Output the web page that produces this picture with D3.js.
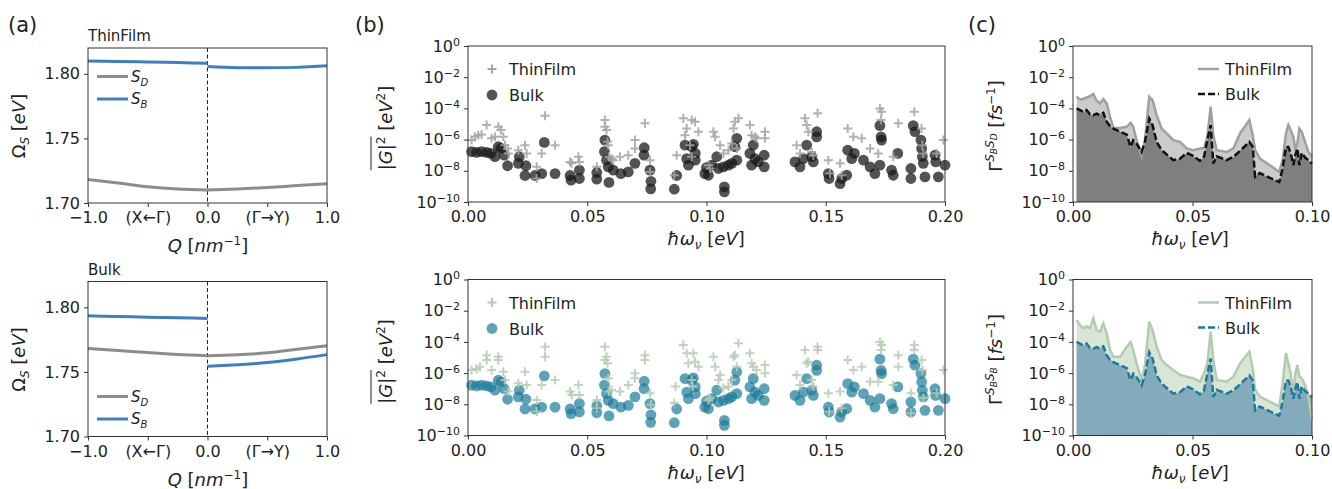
<!DOCTYPE html>
<html>
<head>
<meta charset="utf-8">
<script src="https://cdn.jsdelivr.net/npm/d3@7"></script>
<style>
  body { margin: 0; background: #fff; }
  text { font-family: "DejaVu Sans", sans-serif; }
</style>
</head>
<body>
<script>
// ---------- data: panel (a), exciton bands ----------
var qLeft = [-1.0, -0.75, -0.5, -0.25, 0.0];
var qRight = [0.0, 0.25, 0.5, 0.75, 1.0];
var qTicks = [-1, -0.5, 0, 0.5, 1];
var qTickLabels = ["\u22121.0", "(X\u2190\u0393)", "0.0", "(\u0393\u2192Y)", "1.0"];

var tfSDLeft = [1.7182, 1.7155, 1.7126, 1.7108, 1.7100];
var tfSDRight = [1.7100, 1.7108, 1.7120, 1.7135, 1.7149];
var tfSBLeft = [1.8100, 1.8096, 1.8092, 1.8087, 1.8082];
var tfSBRight = [1.8056, 1.8048, 1.8047, 1.8050, 1.8062];

var bkSDLeft = [1.7682, 1.7665, 1.7650, 1.7634, 1.7626];
var bkSDRight = [1.7626, 1.7632, 1.7648, 1.7675, 1.7702];
var bkSBLeft = [1.7934, 1.7929, 1.7924, 1.7919, 1.7914];
var bkSBRight = [1.7544, 1.7556, 1.7572, 1.7600, 1.7634];

// ---------- data: panel (b), |G|^2 per phonon mode ----------
var bulkFreq = [0.0015,0.0036,0.0057,0.0078,0.0096,0.0113,0.0127,0.0138,0.0152,0.0166,
  0.0211,0.0215,0.0243,0.0239,0.0281,0.0309,0.0320,0.0365,0.0428,0.0432,
  0.0467,0.0467,0.0540,0.0540,0.0574,0.0572,0.0581,0.0588,0.0591,0.0609,
  0.0641,0.0672,0.0700,0.0739,0.0738,0.0763,0.0767,0.0766,0.0865,0.0875,
  0.0910,0.0917,0.0924,0.0938,0.0945,0.0953,0.0953,0.0993,0.1000,
  0.1008,0.1022,0.1043,0.1050,0.1071,0.1092,0.1106,0.1127,0.1119,0.1127,
  0.1075,0.1075,0.1182,0.1189,0.1203,0.1196,0.1217,0.1242,0.1242,0.1371,
  0.1392,0.1406,0.1420,0.1441,0.1448,0.1462,0.1462,0.1511,0.1514,0.1560,
  0.1567,0.1588,0.1592,0.1609,0.1620,0.1658,0.1686,0.1706,0.1727,0.1727,
  0.1732,0.1734,0.1776,0.1783,0.1802,0.1857,0.1857,0.1867,0.1874,0.1899,
  0.1902,0.1905,0.1909,0.1916,0.1958,0.1961,0.1972,0.2000];
var bulkG = [1.7e-7,1.5e-7,1.7e-7,1.5e-7,1.3e-7,8e-8,3.5e-7,2.7e-7,1e-7,2.1e-8,
  3e-8,8e-8,2.1e-8,5e-9,5e-9,6.6e-9,6.6e-7,6.6e-9,5e-9,2.5e-9,
  1.1e-8,3.2e-9,2.9e-9,7.8e-9,9.3e-7,1.7e-7,4.8e-8,1.8e-8,1.8e-9,1.1e-8,
  6.6e-9,8.5e-9,3e-8,3e-7,1e-7,1.1e-8,2.1e-9,7e-10,6.6e-10,5e-9,
  4.4e-7,6e-8,2.3e-8,3.5e-7,5e-7,1.3e-7,4.8e-8,6.6e-9,1.6e-8,
  5.2e-9,2.3e-8,8e-8,1.4e-8,1.8e-8,2.3e-8,3e-8,4.8e-8,3.5e-7,1.2e-6,
  9.3e-10,4.5e-10,1.3e-7,2.3e-8,6e-8,4.4e-7,3.7e-8,1e-7,1.8e-8,3.7e-8,
  1.8e-8,6e-8,4.4e-7,8e-8,3.7e-8,3.2e-6,1.5e-6,6.6e-9,3.2e-9,1.5e-9,
  3.2e-9,5.2e-9,2.1e-7,6e-8,1.3e-7,4.8e-8,1.8e-8,6.6e-9,2.3e-8,7.8e-6,
  1.5e-6,9.3e-7,1.1e-8,5.2e-9,1.3e-7,1.4e-8,3.2e-9,7.8e-6,3.2e-6,9.3e-7,
  2.7e-7,8e-8,3e-8,4.1e-9,1e-7,3.7e-8,4.1e-9,2.3e-8];

var tfTopFreq = [0.0015,0.0029,0.0043,0.0057,0.0078,0.0099,0.0113,0.0127,0.0138,0.0148,
  0.0155,0.0166,0.0169,0.0211,0.0239,0.0246,0.0288,0.0288,0.0309,0.0323,
  0.0365,0.0428,0.0435,0.0463,0.0467,0.0540,0.0574,0.0574,0.0581,0.0585,
  0.0588,0.0591,0.0602,0.0609,0.0637,0.0672,0.0700,0.0700,0.0742,0.0763,
  0.0763,0.0865,0.0875,0.0903,0.0910,0.0917,0.0938,0.0952,0.0966,0.0931,
  0.0938,0.1008,
  0.1015,0.1029,0.1036,0.1057,0.1071,0.1092,0.1106,0.1113,0.1119,0.1134,
  0.1127,0.1182,0.1189,0.1203,0.1210,0.1245,0.1245,0.1378,0.1392,0.1413,
  0.1420,0.1427,0.1441,0.1448,0.1466,0.1511,0.1518,0.1560,0.1567,0.1592,
  0.1616,0.1651,0.1686,0.1720,0.1727,0.1734,0.1732,0.1804,0.1783,0.1871,
  0.1902,0.1905,0.1909,0.1965,0.1993];
var tfTopG = [9.3e-7,1.5e-6,1.9e-6,2.1e-6,8.5e-6,1.2e-6,1.5e-6,6.6e-6,4.1e-6,1.5e-6,
  4.4e-7,2.7e-7,1.3e-7,2.1e-7,4.4e-7,1.3e-7,1.8e-8,3.2e-9,1.3e-7,3.4e-5,
  4.4e-7,3.7e-8,3e-8,8e-8,3.7e-8,1.8e-8,1.8e-5,6.6e-6,4.1e-6,7.2e-7,
  4.4e-7,8e-8,6e-8,4.8e-8,8e-8,1e-7,9.3e-7,2.7e-7,1.1e-5,4.8e-8,
  8.5e-9,5.2e-9,1e-7,2.3e-5,1.9e-6,5.2e-6,1.8e-5,1.4e-5,3.2e-6,4.4e-7,
  8e-8,2.3e-8,
  1.4e-8,3.2e-6,1.5e-6,4.4e-7,1.3e-7,2.1e-7,5.6e-7,5.2e-6,1.4e-5,2.3e-5,
  2.7e-7,8.5e-6,1.9e-6,1.5e-6,1.2e-6,3.2e-6,1.2e-6,4.4e-7,1.3e-7,2.3e-5,
  8.5e-6,3.2e-6,1.6e-7,1e-7,4.8e-5,4.8e-8,6.6e-9,3e-8,5.2e-9,5.2e-6,
  1.5e-6,1.2e-6,2.7e-7,1.3e-7,1e-4,6.1e-5,1.8e-5,1.1e-5,8e-8,6.1e-5,
  5.2e-6,4.4e-7,1.3e-7,1.3e-7,9.3e-7];

var tfBotFreq = [0.0015,0.0036,0.0050,0.0078,0.0078,0.0099,0.0127,0.0127,0.0148,0.0155,
  0.0169,0.0211,0.0239,0.0246,0.0288,0.0288,0.0309,0.0323,0.0323,0.0365,
  0.0428,0.0435,0.0463,0.0467,0.0540,0.0540,0.0574,0.0574,0.0581,0.0585,
  0.0588,0.0591,0.0602,0.0637,0.0672,0.0700,0.0700,0.0742,0.0742,0.0763,
  0.0767,0.0865,0.0870,0.0903,0.0917,0.0924,0.0945,0.0952,0.0966,0.0938,
  0.0942,0.1008,
  0.1015,0.1029,0.1036,0.1057,0.1050,0.1071,0.1092,0.1106,0.1113,0.1119,
  0.1127,0.1134,0.1182,0.1189,0.1196,0.1210,0.1245,0.1245,0.1378,0.1392,
  0.1413,0.1420,0.1427,0.1441,0.1448,0.1466,0.1466,0.1511,0.1514,0.1560,
  0.1567,0.1592,0.1616,0.1651,0.1686,0.1720,0.1727,0.1734,0.1732,0.1804,
  0.1804,0.1783,0.1871,0.1871,0.1902,0.1905,0.1909,0.1857,0.1857,0.1965,
  0.1993];
var tfBotG = [1.6e-6,1.8e-6,2.6e-6,1.4e-5,6.9e-6,1.6e-6,1.1e-5,6.9e-6,1.2e-6,3.6e-7,
  6.6e-8,2.2e-7,1.2e-6,1.7e-7,1.9e-8,3.4e-9,1.7e-7,4.9e-5,1.1e-5,3.6e-7,
  6.6e-8,4e-8,1.7e-7,4e-8,1.9e-8,5.6e-9,4.9e-5,6.9e-6,1.1e-5,4.3e-6,
  4.7e-7,6.6e-8,8.3e-8,6.6e-8,1.7e-7,9.8e-7,4.7e-7,1.4e-5,6.9e-6,5.1e-8,
  9.2e-9,1.2e-8,1.4e-7,6.3e-5,1.9e-5,4.3e-6,1.9e-5,5.4e-6,2.6e-6,3.6e-7,
  1.4e-7,1.9e-8,
  2.5e-8,1.1e-5,2.6e-6,7.6e-7,3.6e-7,1.1e-7,1.4e-7,3.6e-7,1.1e-5,1.4e-5,
  2.6e-6,8.1e-5,1.9e-5,4.3e-6,2.6e-6,1.6e-6,3.3e-6,9.8e-7,7.6e-7,1.7e-7,
  3e-5,4.3e-6,5.4e-6,3.6e-7,1.4e-7,4.9e-5,3e-5,5.1e-8,3.4e-9,6.6e-8,
  5.6e-9,6.9e-6,1.6e-6,2.6e-6,2.8e-7,2.8e-7,1e-4,6.3e-5,3e-5,1.4e-5,
  2.6e-6,1.7e-7,6.3e-5,3e-5,6.9e-6,1.6e-6,2.5e-8,5.1e-8,2.7e-9,5.1e-8,
  1.6e-6];

// ---------- data: panel (c), scattering rates ----------
var rateFreq = [0.0015,0.0029,0.0043,0.0057,0.0071,0.0085,0.0099,0.0113,0.0127,0.0141,
  0.0155,0.0169,0.0197,0.0225,0.0241,0.0252,0.0266,0.0287,0.0301,0.0319,
  0.0333,0.0350,0.0371,0.0392,0.0420,0.0448,0.0476,0.0503,0.0531,0.0548,
  0.0562,0.0576,0.0587,0.0601,0.0643,0.0671,0.0699,0.0738,0.0752,0.0762,
  0.0782,0.0824,0.0863,0.0877,0.0891,0.0901,0.0911,0.0922,0.0930,0.0939,
  0.0947,0.0957,0.0971,0.0985,0.1000];
var rateTfBD = [5.6e-4,3.7e-4,4e-4,5e-4,6.2e-4,8.3e-4,3.1e-4,2.1e-4,4e-4,2.1e-4,
  2.9e-5,5.6e-6,5.6e-6,6.6e-6,1.2e-5,6.6e-6,9.1e-7,8.5e-8,9.1e-7,5.6e-4,
  3.4e-4,3.7e-5,5.1e-6,2.5e-6,9.1e-7,7.1e-7,2.7e-7,2.1e-7,2.7e-7,2.9e-7,
  1.5e-6,1.3e-4,1.9e-6,2.1e-7,1.6e-7,2.7e-7,2.5e-6,1.8e-5,1.9e-6,2.1e-7,
  6e-8,2.3e-8,8.5e-9,4.8e-8,2.5e-6,8.5e-6,4e-6,1.5e-6,2.7e-7,5.6e-7,
  5.1e-6,3.2e-6,7.1e-7,1.6e-7,7.8e-8];
var rateTfBB = [2.5e-3,1.2e-3,7.4e-4,1e-3,7.4e-4,3.2e-3,5.7e-4,4.5e-4,1.5e-3,3.5e-4,
  3e-5,1.1e-5,1.1e-5,4.9e-5,1e-4,3e-5,4.2e-6,3.6e-7,3.3e-6,2e-3,
  5.7e-4,4.9e-5,6.9e-6,3.3e-6,1.6e-6,7.6e-7,5.9e-7,4.7e-7,2.8e-7,9.8e-7,
  4.2e-6,4.5e-4,6.9e-6,3.6e-7,2.8e-7,5.9e-7,4.2e-6,2.4e-5,2e-6,8.3e-8,
  3.1e-8,1.5e-8,7.2e-9,2.2e-7,1.9e-5,4.2e-6,9.8e-7,3.1e-8,9.8e-7,3.3e-6,
  5.9e-7,4.7e-7,1.7e-7,3.1e-8,1e-9];
var rateBulk = [1e-4,7.8e-5,6e-5,7.8e-5,4.1e-5,3.7e-5,4.7e-5,3.7e-5,5.2e-5,1.4e-5,
  7.2e-6,5.1e-6,3.2e-6,2.1e-6,3.4e-7,9.1e-7,5.6e-7,1.6e-7,7.1e-7,2.2e-5,
  8.5e-6,7.1e-7,2.1e-7,1.1e-7,4.8e-8,6e-8,1.4e-7,9.1e-8,4.3e-8,7.8e-8,
  9.1e-7,8.5e-6,2.9e-8,8.5e-8,4.8e-8,7.8e-8,1.9e-7,7.1e-7,3.4e-7,4.1e-9,
  7.2e-9,3.5e-9,1.9e-9,1.4e-8,3.4e-7,3.4e-7,1.3e-7,2.3e-8,1e-7,2.7e-7,
  2.3e-8,1.4e-7,7.1e-8,4.8e-8,2.9e-8];

var logTicks = [1e0, 1e-2, 1e-4, 1e-6, 1e-8, 1e-10];

// ---------- drawing ----------
var svg = d3.select("body").append("svg").attr("width", 1332).attr("height", 489);
var serif = "'DejaVu Serif', serif";

function frame(g, x, y) {
  var xr = x.range(), yr = y.range();
  g.append("rect").attr("x", xr[0]).attr("y", yr[1])
    .attr("width", xr[1] - xr[0]).attr("height", yr[0] - yr[1])
    .attr("fill", "none").attr("stroke", "#333").attr("stroke-width", 1);
}

function styleAxis(sel) {
  sel.select(".domain").remove();
  sel.selectAll(".tick line").attr("stroke", "#333");
  sel.selectAll(".tick text").attr("font-size", 16).attr("fill", "#222")
    .attr("font-family", "'DejaVu Sans', sans-serif");
}

function logLabels(sel) {
  sel.selectAll(".tick text").each(function(d) {
    var t = d3.select(this), e = Math.round(Math.log10(d));
    t.text(null);
    t.append("tspan").text("10");
    t.append("tspan").attr("dy", "-0.55em").attr("font-size", 11)
      .text(e === 0 ? "0" : "\u2212" + (-e));
  });
}

function axes(g, x, y, xa, ya) {
  var bottom = y.range()[0], left = x.range()[0];
  g.append("g").attr("transform", "translate(0," + bottom + ")").call(xa).call(styleAxis);
  var yg = g.append("g").attr("transform", "translate(" + left + ",0)").call(ya).call(styleAxis);
  frame(g, x, y);
  return yg;
}

// rotated axis label built from [text, style] parts
function vlabel(cx, cy, parts, size) {
  var t = svg.append("text").attr("transform", "translate(" + cx + "," + cy + ") rotate(-90)")
    .attr("text-anchor", "middle").attr("font-size", size || 18).attr("font-family", serif).attr("fill", "#222");
  addParts(t, parts);
  return t;
}
function hlabel(cx, cy, parts) {
  var t = svg.append("text").attr("x", cx).attr("y", cy)
    .attr("text-anchor", "middle").attr("font-size", 18).attr("font-family", serif).attr("fill", "#222");
  addParts(t, parts);
}
function addParts(t, parts) {
  parts.forEach(function(p) {
    var s = t.append("tspan").text(p[0]);
    if (p[1] && p[1].it) s.attr("font-style", "italic");
    if (p[1] && p[1].dy) s.attr("dy", p[1].dy);
    if (p[1] && p[1].fs) s.attr("font-size", p[1].fs);
  });
}

// ----- panel (a) -----
function bandPanel(top, title, lines, legY) {
  var g = svg.append("g");
  var x = d3.scaleLinear().domain([-1, 1]).range([88, 327]);
  var y = d3.scaleLinear().domain([1.70, 1.82]).range([top + 155, top]);
  g.append("line").attr("x1", x(0)).attr("x2", x(0)).attr("y1", top).attr("y2", top + 155)
    .attr("stroke", "#222").attr("stroke-width", 1).attr("stroke-dasharray", "4,2.5");
  var line = d3.line().x(function(d) { return x(d[0]); }).y(function(d) { return y(d[1]); })
    .curve(d3.curveMonotoneX);
  lines.forEach(function(l) {
    g.append("path").datum(d3.zip(l.q, l.v)).attr("d", line)
      .attr("fill", "none").attr("stroke", l.c).attr("stroke-width", 3);
  });
  axes(g, x, y,
    d3.axisBottom(x).tickValues(qTicks).tickFormat(function(d, i) { return qTickLabels[i]; })
      .tickSize(4).tickPadding(5),
    d3.axisLeft(y).tickValues([1.70, 1.75, 1.80]).tickFormat(d3.format(".2f")).tickSize(4).tickPadding(4));
  g.append("text").attr("x", 88).attr("y", top - 7).attr("font-size", 15).attr("fill", "#222").text(title);
  // legend
  [["D", "#8c8c8c"], ["B", "#3d7fc1"]].forEach(function(e, i) {
    var ly = legY + i * 22.5;
    g.append("line").attr("x1", 97).attr("x2", 128).attr("y1", ly).attr("y2", ly)
      .attr("stroke", e[1]).attr("stroke-width", 3);
    var t = g.append("text").attr("x", 131).attr("y", ly + 5).attr("font-size", 15)
      .attr("font-family", serif).attr("font-style", "italic").attr("fill", "#222");
    t.append("tspan").text("S");
    t.append("tspan").attr("dy", 4).attr("font-size", 10).text(e[0]);
  });
  vlabel(25, top + 78, [["\u03a9"], ["S", {it: 1, dy: 4, fs: 12}], [" [", {dy: -4}], ["eV", {it: 1}], ["]"]]);
  hlabel(208, top + 204, [["Q", {it: 1}], ["  ["], ["nm", {it: 1}], ["\u22121", {dy: -7, fs: 12}], ["]", {dy: 7}]]);
}

var gray = "#8c8c8c", blue = "#3d7fc1";
bandPanel(48, "ThinFilm", [
  {q: qLeft, v: tfSDLeft, c: gray}, {q: qRight, v: tfSDRight, c: gray},
  {q: qLeft, v: tfSBLeft, c: blue}, {q: qRight, v: tfSBRight, c: blue}], 76.5);
bandPanel(281.5, "Bulk", [
  {q: qLeft, v: bkSDLeft, c: gray}, {q: qRight, v: bkSDRight, c: gray},
  {q: qLeft, v: bkSBLeft, c: blue}, {q: qRight, v: bkSBRight, c: blue}], 396.5);

// ----- panel (b) -----
function couplingPanel(top, tfF, tfV, crossCol, dotCol, dotOp) {
  var g = svg.append("g");
  var x = d3.scaleLinear().domain([0, 0.2]).range([468, 945]);
  var y = d3.scaleLog().domain([1e-10, 1]).range([top + 156, top]);
  var cross = "M-4.5,0H4.5M0,-4.5V4.5";
  g.selectAll("circle.bk").data(d3.zip(bulkFreq, bulkG)).enter().append("circle")
    .attr("cx", function(d) { return x(d[0]); }).attr("cy", function(d) { return y(d[1]); })
    .attr("r", 5.4).attr("fill", dotCol).attr("fill-opacity", dotOp);
  g.selectAll("path.tf").data(d3.zip(tfF, tfV)).enter().append("path")
    .attr("d", cross).attr("transform", function(d) { return "translate(" + x(d[0]) + "," + y(d[1]) + ")"; })
    .attr("stroke", crossCol).attr("stroke-width", 2).attr("stroke-opacity", 0.85);
  var yg = axes(g, x, y,
    d3.axisBottom(x).tickValues([0, 0.05, 0.1, 0.15, 0.2]).tickFormat(d3.format(".2f")).tickSize(4).tickPadding(5),
    d3.axisLeft(y).tickValues(logTicks).tickSize(4).tickPadding(4));
  logLabels(yg);
  // legend
  g.append("path").attr("d", cross).attr("transform", "translate(492," + (top + 23) + ")")
    .attr("stroke", crossCol).attr("stroke-width", 2);
  g.append("circle").attr("cx", 492).attr("cy", top + 49).attr("r", 5.4).attr("fill", dotCol).attr("fill-opacity", dotOp);
  g.append("text").attr("x", 509).attr("y", top + 29).attr("font-size", 16).attr("fill", "#222").text("ThinFilm");
  g.append("text").attr("x", 509).attr("y", top + 55).attr("font-size", 16).attr("fill", "#222").text("Bulk");
  var lab = vlabel(392, top + 82, [["|"], ["G", {it: 1}], ["|"], ["2", {dy: -7, fs: 12}],
    [" [", {dy: 7}], ["eV", {it: 1}], ["2", {dy: -7, fs: 12}], ["]", {dy: 7}]]);
  // overline above |G|^2, drawn in the label's rotated frame
  var x0 = Infinity, x1 = -Infinity, y0 = Infinity;
  lab.selectAll("tspan").nodes().slice(0, 4).forEach(function(n) {
    var b = n.getBBox();
    x0 = Math.min(x0, b.x); x1 = Math.max(x1, b.x + b.width); y0 = Math.min(y0, b.y);
  });
  svg.append("line").attr("transform", lab.attr("transform"))
    .attr("x1", x0).attr("x2", x1).attr("y1", y0 - 3).attr("y2", y0 - 3)
    .attr("stroke", "#222").attr("stroke-width", 1);
  hlabel(706, top + 199, [["\u0127\u03c9", {it: 1}], ["\u03bd", {it: 1, dy: 4, fs: 12}], [" [", {dy: -4}], ["eV", {it: 1}], ["]"]]);
}
couplingPanel(46, tfTopFreq, tfTopG, "#a3a3a3", "#1a1a1a", 0.75);
couplingPanel(279.5, tfBotFreq, tfBotG, "#b5cbb1", "#1a7a9a", 0.7);

// ----- panel (c) -----
function ratePanel(top, tfV, tfLine, tfFill, bkLine, bkFill, sup) {
  var g = svg.append("g");
  var x = d3.scaleLinear().domain([0, 0.1]).range([1073, 1312]);
  var y = d3.scaleLog().domain([1e-10, 1]).range([top + 156, top]);
  var area = d3.area().x(function(d) { return x(d[0]); }).y0(y(1e-10)).y1(function(d) { return y(d[1]); });
  var line = d3.line().x(function(d) { return x(d[0]); }).y(function(d) { return y(d[1]); });
  var tf = d3.zip(rateFreq, tfV), bk = d3.zip(rateFreq, rateBulk);
  g.append("path").datum(tf).attr("d", area).attr("fill", tfFill);
  g.append("path").datum(bk).attr("d", area).attr("fill", bkFill);
  g.append("path").datum(tf).attr("d", line).attr("fill", "none").attr("stroke", tfLine).attr("stroke-width", 2.5);
  g.append("path").datum(bk).attr("d", line).attr("fill", "none").attr("stroke", bkLine)
    .attr("stroke-width", 2.5).attr("stroke-dasharray", "7,3");
  var yg = axes(g, x, y,
    d3.axisBottom(x).tickValues([0, 0.05, 0.1]).tickFormat(d3.format(".2f")).tickSize(4).tickPadding(5),
    d3.axisLeft(y).tickValues(logTicks).tickSize(4).tickPadding(4));
  logLabels(yg);
  g.append("line").attr("x1", 1198).attr("x2", 1219).attr("y1", top + 23).attr("y2", top + 23)
    .attr("stroke", tfLine).attr("stroke-width", 2.5);
  g.append("line").attr("x1", 1198).attr("x2", 1219).attr("y1", top + 48).attr("y2", top + 48)
    .attr("stroke", bkLine).attr("stroke-width", 2.5).attr("stroke-dasharray", "7,3");
  g.append("text").attr("x", 1225).attr("y", top + 29).attr("font-size", 16).attr("fill", "#222").text("ThinFilm");
  g.append("text").attr("x", 1225).attr("y", top + 54).attr("font-size", 16).attr("fill", "#222").text("Bulk");
  vlabel(1002, top + 80, [["\u0393"], ["S", {it: 1, dy: -8, fs: 12}], ["B", {it: 1, dy: 3, fs: 9}],
    ["S", {it: 1, dy: -3, fs: 12}], [sup, {it: 1, dy: 3, fs: 9}], ["   [", {dy: 5}], ["fs", {it: 1}],
    ["\u22121", {dy: -7, fs: 12}], ["]", {dy: 7}]]);
  hlabel(1190, top + 199, [["\u0127\u03c9", {it: 1}], ["\u03bd", {it: 1, dy: 4, fs: 12}], [" [", {dy: -4}], ["eV", {it: 1}], ["]"]]);
}
ratePanel(46, rateTfBD, "#a0a0a0", "#cbcbcb", "#111", "#7f7f7f", "D");
ratePanel(279.5, rateTfBB, "#b3cbae", "#d9e5d5", "#1c7a9c", "#83abbb", "B");

// panel letters
[["(a)", 8], ["(b)", 355], ["(c)", 968]].forEach(function(p) {
  svg.append("text").attr("x", p[1]).attr("y", 32).attr("font-size", 21).attr("fill", "#222").text(p[0]);
});
</script>
</body>
</html>
